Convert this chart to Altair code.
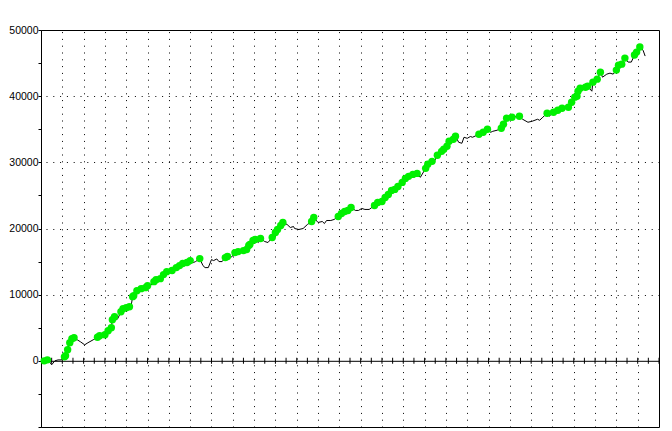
import altair as alt
import pandas as pd

trade = [3, 6, 8, 10, 13, 16, 19, 22, 23, 25, 27, 29, 31, 34, 37, 41, 44, 49, 53, 55,
         60, 63, 66, 67, 69, 71, 72, 75, 77, 80, 83, 84, 86, 87, 90, 94, 98, 100, 102, 106,
         108, 112, 115, 118, 123, 127, 130, 133, 137, 140, 143, 145, 149, 152, 154, 157, 160, 162, 165, 167,
         170, 173, 175, 179, 182, 185, 190, 193, 195, 196, 199, 201, 204, 206, 210, 213, 217, 220, 222, 225,
         227, 231, 234, 237, 238, 242, 246, 250, 254, 256, 260, 264, 266, 268, 272, 275, 279, 282, 285, 288,
         291, 295, 298, 301, 304, 308, 313, 316, 320, 323, 326, 329, 332, 335, 339, 342, 345, 349, 353, 356,
         361, 363, 367, 369, 372, 376, 378, 381, 383, 387, 389, 392, 395, 397, 400, 403, 405, 411, 415, 419,
         422, 424, 428, 432, 434, 437, 442, 449, 452, 457, 461, 466, 468, 471, 475, 477, 481, 485, 489, 495,
         498, 501, 503, 504, 506, 511, 513, 517, 518, 522, 525, 527, 531, 534, 537, 540, 542, 545, 548, 551,
         554, 557, 559, 562, 565, 567]

equity = [0, 150, -150, -600, 0, 140, 140, 600, 760, 1670, 2730, 3330, 3480, 3180, 2880, 2420, 2730, 3180, 3560, 3790,
          3940, 4550, 5000, 6210, 6670, 6210, 6360, 7420, 7880, 8030, 8180, 7730, 9700, 9850, 10600, 10910, 11060, 11360, 11210, 11970,
          12270, 12420, 13030, 13480, 13640, 14090, 14390, 14700, 14850, 15150, 14850, 15000, 15450, 14390, 14090, 14090, 15300, 15150, 15400, 15000,
          15000, 15600, 15760, 15700, 16360, 16510, 16660, 16820, 17420, 17570, 18180, 18330, 17880, 18480, 18030, 17880, 18630, 19390, 19850, 20450,
          20910, 20600, 20150, 20300, 20000, 19850, 20000, 20600, 21060, 21660, 20910, 21060, 20750, 21210, 21210, 21360, 21820, 22270, 22570, 22730,
          23180, 22730, 22730, 23030, 22880, 22880, 23480, 23940, 24090, 24690, 25150, 25760, 25910, 26360, 26970, 27570, 27880, 28180, 28330, 27730,
          29090, 29700, 30150, 30100, 31060, 31660, 31970, 32420, 33180, 33480, 33940, 33030, 32880, 33790, 33630, 33900, 33790, 34240, 34540, 35000,
          34540, 34690, 34850, 35150, 35750, 36660, 36820, 36970, 36510, 36060, 36210, 36510, 36360, 36820, 37420, 36970, 37570, 37880, 38180, 38330,
          39090, 39850, 40000, 40750, 41210, 41360, 41510, 40750, 42120, 42570, 43630, 42870, 43330, 43480, 43330, 43940, 44690, 44840, 45750, 45150,
          45150, 46210, 46660, 47420, 46960, 46060]

x_ticks = list(range(10, 581, 10))
x_grid = list(range(20, 580, 20))
y_ticks = list(range(-10000, 50001, 5000))
y_grid = [10000, 20000, 30000, 40000]

df = pd.DataFrame({"trade": trade, "equity": equity})
ticks_df = pd.DataFrame({"tick": x_ticks})

xs = alt.Scale(domain=[0, 580], nice=False, zero=False)
ys = alt.Scale(domain=[-10000, 50000], nice=False)

y_axis = alt.Axis(
    orient="left", values=y_ticks, title=None, format="d",
    labelExpr="datum.value >= 0 && datum.value % 10000 === 0 ? datum.label : ''",
    labelFont="Liberation Sans", labelFontSize=10.5, labelColor="#000000",
    labelPadding=0, tickSize=3, tickColor="#000000", domainColor="#000000",
    grid=False,
)

y_grid_axis = alt.Axis(
    orient="right", values=y_grid, title=None, labels=False, ticks=False,
    domain=False, grid=True, gridColor="#000000", gridDash=[1, 5.8], gridWidth=1,
)

zero_axis = alt.Axis(
    orient="bottom", values=x_ticks, offset=-66.2, labels=False, title=None,
    domain=True, domainColor="#000000", domainWidth=1, grid=False, ticks=False,
)

grid_axis = alt.Axis(
    orient="top", values=x_grid, labels=False, title=None, domain=False,
    ticks=False, grid=True, gridColor="#000000", gridDash=[1, 5.8], gridWidth=1,
)

line = alt.Chart(df).mark_line(color="#000000", strokeWidth=1).encode(
    x=alt.X("trade:Q", scale=xs, axis=zero_axis),
    y=alt.Y("equity:Q", scale=ys, axis=y_axis),
)

points = alt.Chart(df).transform_window(
    runmax="max(equity)", frame=[None, 0], sort=[alt.SortField("trade")]
).transform_filter(
    "datum.equity >= datum.runmax"
).mark_circle(color="#00f000", opacity=1, size=55).encode(
    x=alt.X("trade:Q", scale=xs, axis=grid_axis),
    y=alt.Y("equity:Q", scale=ys, axis=y_grid_axis),
)

zero_ticks = alt.Chart(ticks_df).transform_calculate(
    base="0"
).mark_tick(color="#000000", orient="vertical", size=6, thickness=1, opacity=1).encode(
    x=alt.X("tick:Q", scale=xs, axis=None),
    y=alt.Y("base:Q", scale=ys, axis=None),
)

chart = alt.layer(line, zero_ticks, points).resolve_axis(x="independent", y="independent").properties(
    width=618, height=397,
    autosize=alt.AutoSizeParams(type="none"),
    padding={"left": 33, "top": 22, "right": 5, "bottom": 5},
    background="#ffffff",
).configure_view(stroke="#000000", strokeWidth=1)

chart.save("out.html", embed_options={"renderer": "svg", "actions": False})
